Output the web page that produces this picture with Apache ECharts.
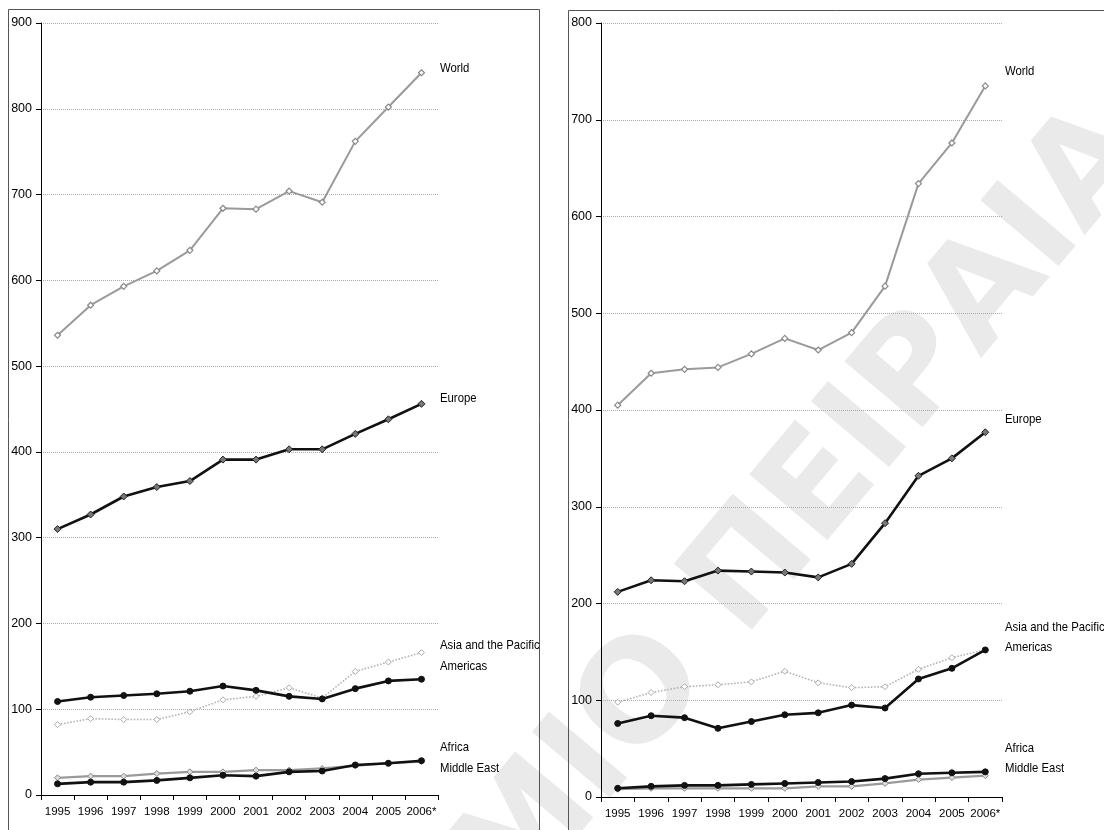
<!DOCTYPE html>
<html>
<head>
<meta charset="utf-8">
<script src="https://cdn.jsdelivr.net/npm/echarts@6/dist/echarts.min.js"></script>
<style>
html,body{margin:0;padding:0;background:#fff;}
#chart{width:1104px;height:830px;}
</style>
</head>
<body>
<div id="chart"></div>
<script>
// ---- data ----
const years = ['1995','1996','1997','1998','1999','2000','2001','2002','2003','2004','2005','2006*'];
const yTicksLeft = [0,100,200,300,400,500,600,700,800,900];
const yTicksRight = [0,100,200,300,400,500,600,700,800];

// Left panel (arrivals)
const worldL    = [536, 571, 593, 611, 635, 684, 683, 704, 691, 762, 802, 842];
const europeL   = [310, 327, 348, 359, 366, 391, 391, 403, 403, 421, 438, 456];
const asiaL     = [82, 89, 88, 88, 97, 111, 115, 125, 113, 144, 155, 166];
const americasL = [109, 114, 116, 118, 121, 127, 122, 115, 112, 124, 133, 135];
const africaL   = [20, 22, 22, 25, 27, 27, 29, 29, 31, 34, 37, 39];
const mideastL  = [13, 15, 15, 17, 20, 23, 22, 27, 28, 35, 37, 40];

// Right panel (receipts)
const worldR    = [405, 438, 442, 444, 458, 474, 462, 480, 528, 634, 676, 735];
const europeR   = [212, 224, 223, 234, 233, 232, 227, 241, 283, 332, 350, 377];
const asiaR     = [98, 108, 114, 116, 119, 130, 118, 113, 114, 132, 144, 152];
const americasR = [76, 84, 82, 71, 78, 85, 87, 95, 92, 122, 133, 152];
const africaR   = [8, 9, 9, 9, 9, 9, 11, 11, 14, 18, 20, 22];
const mideastR  = [9, 11, 12, 12, 13, 14, 15, 16, 19, 24, 25, 26];

const seriesNames = ['World','Europe','Asia and the Pacific','Americas','Africa','Middle East'];
const watermark = 'ΜΙΟ ΠΕΙΡΑΙΑ';

const FONT = "'Liberation Sans',Arial,sans-serif";

const chart = echarts.init(document.getElementById('chart'));

function xAxis(gi){
  return {
    type:'category', gridIndex:gi, data:years, boundaryGap:true,
    axisLine:{show:true,lineStyle:{color:'#000',width:1}},
    axisTick:{show:true,length:5,lineStyle:{color:'#000'}},
    axisLabel:{color:'#000',fontFamily:FONT,fontSize:11.5,margin:11,interval:0},
    splitLine:{show:false}
  };
}
function yAxis(gi,max){
  return {
    type:'value', gridIndex:gi, min:0, max:max, interval:100,
    axisLine:{show:true,lineStyle:{color:'#000',width:1}},
    axisTick:{show:true,length:5,lineStyle:{color:'#000'}},
    axisLabel:{color:'#000',fontFamily:FONT,fontSize:12.5,margin:9},
    splitLine:{show:true,lineStyle:{color:'#aaa',type:'dotted',width:1}}
  };
}

const styles = {
  'World':               {line:{color:'#9a9a9a',width:2}, sym:'diamond', size:6, item:{color:'#fff',borderColor:'#888',borderWidth:1.2}},
  'Europe':              {line:{color:'#111',width:2.6}, sym:'diamond', size:7, item:{color:'#777',borderColor:'#222',borderWidth:1}},
  'Asia and the Pacific':{line:{color:'#b4b4b4',width:1.6,type:'dotted'}, sym:'diamond', size:6, item:{color:'#fff',borderColor:'#aaa',borderWidth:1}},
  'Americas':            {line:{color:'#111',width:2.6}, sym:'circle', size:6, item:{color:'#111',borderColor:'#111',borderWidth:1}},
  'Africa':              {line:{color:'#9a9a9a',width:2.2}, sym:'diamond', size:6, item:{color:'#ddd',borderColor:'#888',borderWidth:1}},
  'Middle East':         {line:{color:'#111',width:2.6}, sym:'circle', size:6, item:{color:'#111',borderColor:'#111',borderWidth:1}}
};

function mk(name, data, gi){
  const s = styles[name];
  return {
    name:name, type:'line', xAxisIndex:gi, yAxisIndex:gi, data:data,
    symbol:s.sym, symbolSize:s.size, showAllSymbol:true,
    lineStyle:s.line, itemStyle:s.item, emphasis:{disabled:true},
    z: (s.line.color==='#111') ? 4 : 3, animation:false
  };
}

const leftData  = [worldL, europeL, asiaL, americasL, africaL, mideastL];
const rightData = [worldR, europeR, asiaR, americasR, africaR, mideastR];
const series = [];
seriesNames.forEach((n,i)=>series.push(mk(n,leftData[i],0)));
seriesNames.forEach((n,i)=>series.push(mk(n,rightData[i],1)));

function lbl(text,x,y){
  return {type:'text', x:x, y:y, z:10, silent:true, scaleX:0.84,
    style:{text:text, fill:'#000', font:'13.5px '+FONT, textVerticalAlign:'middle', textAlign:'left'}};
}

const graphic = [
  // watermark
  {type:'text', x:805, y:510, rotation:0.87, z:-10, silent:true,
   style:{text:watermark, fill:'#eaeaea', font:'bold 140px "DejaVu Sans",sans-serif',
          textAlign:'center', textVerticalAlign:'middle'}},
  // panel frames
  {type:'rect', shape:{x:8.5,y:9.5,width:531,height:840}, z:-5, silent:true,
   style:{fill:'none',stroke:'#555',lineWidth:1}},
  {type:'rect', shape:{x:568.5,y:10.5,width:560,height:840}, z:-5, silent:true,
   style:{fill:'none',stroke:'#555',lineWidth:1}},
  // series labels left
  lbl(seriesNames[0],440,68), lbl(seriesNames[1],440,398), lbl(seriesNames[2],440,645),
  lbl(seriesNames[3],440,666), lbl(seriesNames[4],440,747), lbl(seriesNames[5],440,768),
  // series labels right
  lbl(seriesNames[0],1005,71), lbl(seriesNames[1],1005,419), lbl(seriesNames[2],1005,627),
  lbl(seriesNames[3],1005,647), lbl(seriesNames[4],1005,748), lbl(seriesNames[5],1005,768)
];

chart.setOption({
  backgroundColor:'#fff',
  animation:false,
  grid:[
    {left:41, top:23, width:397, height:772, containLabel:false},
    {left:601, top:23, width:401, height:774, containLabel:false}
  ],
  xAxis:[xAxis(0), xAxis(1)],
  yAxis:[yAxis(0,yTicksLeft[yTicksLeft.length-1]), yAxis(1,yTicksRight[yTicksRight.length-1])],
  series:series,
  graphic:graphic
});
</script>
</body>
</html>
